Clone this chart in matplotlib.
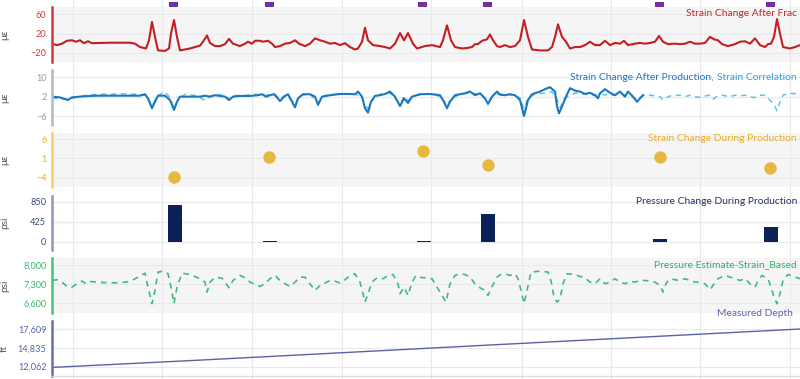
import matplotlib
matplotlib.use("Agg")
import matplotlib.pyplot as plt
from matplotlib.offsetbox import TextArea, HPacker, AnchoredOffsetbox

plt.rcParams['font.family'] = ['Lato', 'DejaVu Sans']

# ---------------- data ----------------
event_x = [174, 270, 423, 488, 660, 771]

frac_pts = [(52, -1), (57, -4), (62, -1), (67, 5), (72, 6), (76, 3), (80, 6), (84, 0), (88, 4), (92, 0),
            (100, 0.5), (110, 1), (120, 1), (130, 1), (135, -1), (140, -8), (146, -11), (149, 6), (152, 44),
            (155, 13), (158, -15), (165, -16), (169, -11), (171, 20), (174, 48), (177, 13), (180, -15),
            (185, -13), (190, -11), (195, -8), (200, -5), (203, 3), (207, 16), (210, 0.5), (215, -6),
            (220, -6), (225, -2), (229, 9), (233, -1), (240, -6), (245, -1), (248, 3), (252, -1), (255, 5),
            (260, 5), (263, 3), (268, 5), (272, -1), (275, -8), (280, -6), (285, -1), (290, 0.5), (295, 6),
            (299, -1), (305, -6), (310, -1), (315, 10), (320, 6), (325, 3), (330, -1), (335, 0.5), (340, -4),
            (345, 0), (350, -8), (355, -13), (358, -11), (362, 3), (365, 32), (368, 6), (373, -4), (380, -6),
            (385, -8), (390, -11), (395, -1), (400, 21), (404, 6), (408, 21), (413, -1), (417, -11), (425, -6),
            (432, -4), (440, -8), (443, 6), (447, 37), (451, 6), (455, -8), (462, -11), (467, -10), (472, -8),
            (475, -2), (478, -2), (482, 5), (487, 8), (490, 18), (493, 6), (497, -6), (500, -8), (505, -4),
            (510, -8), (515, -6), (520, 6), (524, 48), (528, 13), (532, -13), (540, -15), (548, -15),
            (552, -8), (555, 13), (558, 39), (562, 13), (566, 3), (570, -11), (575, -8), (580, -8), (585, -4),
            (590, 3), (595, -4), (600, -4), (605, 5), (610, -4), (615, 0.5), (620, -1), (624, 5), (628, -4),
            (635, -1), (640, 0.5), (645, -1), (650, 0.5), (655, 3), (659, 15), (663, 3), (668, -2), (675, -1),
            (680, -2), (685, -1), (690, 3), (695, -1), (700, -1), (705, 0.5), (710, 13), (714, 8), (718, 6),
            (722, -2), (728, -6), (735, -2), (740, 3), (745, 4), (750, -1), (755, 10), (760, -4), (765, -8),
            (768, -2), (771, -1), (774, 13), (777, 50), (780, 20), (783, -8), (790, -11), (795, -8), (800, -4)]

production_pts = [(52, 2), (60, 1.7), (65, 1), (68, 0.6), (72, 1.7), (80, 2), (90, 2.3), (100, 2.4), (120, 2.4),
                  (140, 2.4), (145, 3), (148, 1.3), (152, -2.8), (155, -0.1), (158, 2.4), (165, 2.4), (170, 0.6),
                  (174, -3.5), (177, -0.1), (180, 2), (190, 2), (200, 2), (205, 2.4), (210, 2), (215, 2.6),
                  (220, 2.3), (225, 2), (229, 0.6), (233, 2), (240, 2.3), (250, 2.3), (258, 2.6), (262, 3),
                  (266, 2), (270, 2.6), (274, 3), (277, 1.7), (280, 0.2), (284, 2), (288, 3), (292, -0.1),
                  (295, -2.4), (298, 1.3), (303, 3), (310, 3), (315, 2), (318, -1.4), (322, 2), (330, 2.6),
                  (340, 3.1), (348, 3.1), (355, 3), (358, 4.1), (362, 2), (365, -2.8), (368, -4.6), (371, -0.1),
                  (375, 2.3), (380, 2.6), (385, 3.1), (390, 4.1), (395, 2), (400, -1.9), (404, 1.3), (408, -0.6),
                  (412, 2), (420, 3), (430, 3.1), (440, 2.6), (443, 0.6), (447, -2.8), (450, -0.1), (455, 2.6),
                  (465, 3.4), (470, 4.1), (475, 2.6), (480, 3.4), (485, 1.3), (488, -1), (492, 2), (497, 4.1),
                  (500, 2.8), (505, 2.6), (510, 3), (515, 2.6), (520, 0.6), (524, -6), (528, 0.6), (532, 3),
                  (540, 4.1), (545, 5.1), (550, 5.9), (555, 4.1), (557, -1.9), (559, -4.9), (562, -2.1), (566, 2),
                  (570, 5.5), (575, 4.5), (580, 4.1), (585, 3.1), (590, 3.6), (595, 2.6), (598, 1.3), (600, 3.4),
                  (605, 5.1), (610, 3.6), (615, 2.6), (620, 4.1), (625, 2), (628, 4.1), (633, 2), (637, -0.1),
                  (640, 1.3), (643, 2.6)]

correlation_pts = [(52, 1.5), (60, 1.0), (70, 1.0), (80, 2.2), (90, 2.8), (100, 3.0), (110, 3.0), (120, 3.2),
                   (130, 3.0), (140, 3.0), (146, 2.5), (149, 0.5), (152, -2.0), (155, 0.5), (160, 3.0), (165, 4.0),
                   (170, 1.5), (174, -2.5), (178, 0.5), (185, 3.0), (195, 2.5), (205, 0.5), (210, 2.0), (215, 3.0),
                   (225, 2.5), (229, 1.0), (233, 2.5), (245, 2.5), (255, 3.0), (265, 2.5), (275, 3.0), (280, 1.0),
                   (285, 2.5), (292, 0.5), (295, -1.5), (300, 2.5), (310, 3.0), (318, -0.5), (325, 2.5), (335, 3.0),
                   (345, 3.0), (355, 3.0), (362, 2.0), (365, -1.5), (368, -3.0), (372, 0.5), (380, 3.0), (390, 3.5),
                   (400, -1.0), (404, 2.0), (408, 0.5), (415, 2.5), (425, 3.0), (435, 3.0), (443, 1.0), (447, -2.0),
                   (451, 1.0), (460, 3.0), (470, 3.5), (480, 3.0), (488, 0.0), (495, 3.0), (505, 3.0), (515, 2.5),
                   (520, 1.5), (524, -3.0), (528, 1.5), (535, 3.0), (545, 3.5), (552, 4.0), (557, 1.0), (560, -2.5),
                   (565, 1.5), (575, 3.5), (585, 3.0), (595, 2.5), (600, 3.0), (610, 2.5), (620, 3.0), (630, 2.5),
                   (637, 1.0), (645, 3.0), (650, 2.6), (655, 2.3), (660, 2.0), (663, 0.6), (667, 1.7), (672, 2.6),
                   (680, 2.6), (685, 2.0), (690, 2.6), (695, 2.0), (700, 1.7), (705, 2.3), (710, 2.6), (713, 1.0),
                   (717, 2.0), (722, 2.6), (730, 2.0), (735, 2.6), (740, 2.3), (745, 2.6), (750, 2.0), (755, 1.6),
                   (758, 2.6), (765, 2.6), (770, 0.6), (774, -1.4), (777, -3.8), (780, -0.1), (783, 2.6), (790, 3.4),
                   (800, 3.0)]

during_x = [174, 269, 423, 488, 660, 770]
during_y = [-3.9, 1.3, 2.9, -0.7, 1.4, -1.4]

pressure_x = [175, 270, 424, 488, 660, 771]
pressure_y = [785, 12, 10, 582, 45, 314]

estimate_pts = [(52, 7435), (57, 7460), (62, 7373), (67, 7216), (72, 7190), (77, 7315), (82, 7410), (86, 7315),
                (90, 7398), (100, 7362), (110, 7350), (120, 7350), (130, 7398), (138, 7555), (145, 7700),
                (148, 7190), (152, 6585), (155, 7070), (158, 7740), (163, 7775), (168, 7680), (171, 7190),
                (174, 6585), (177, 7190), (182, 7700), (190, 7653), (200, 7497), (205, 7373), (207, 7010),
                (210, 7373), (215, 7555), (222, 7520), (229, 7168), (233, 7435), (240, 7617), (245, 7535),
                (250, 7373), (255, 7290), (260, 7216), (265, 7315), (270, 7497), (275, 7617), (280, 7435),
                (285, 7315), (290, 7216), (295, 7373), (300, 7555), (305, 7555), (310, 7315), (315, 7070),
                (320, 7253), (325, 7340), (330, 7435), (335, 7410), (340, 7340), (345, 7460), (350, 7617),
                (355, 7680), (360, 7373), (363, 6950), (365, 6644), (368, 6950), (372, 7373), (377, 7535),
                (383, 7497), (388, 7617), (393, 7653), (398, 7315), (400, 6950), (404, 7190), (408, 6888),
                (412, 7373), (416, 7617), (422, 7535), (428, 7535), (432, 7497), (436, 7253), (440, 7010),
                (443, 6826), (446, 6644), (450, 7315), (455, 7617), (460, 7680), (465, 7653), (470, 7555),
                (475, 7315), (480, 7168), (485, 7070), (488, 6888), (492, 7216), (497, 7555), (500, 7640),
                (505, 7680), (510, 7617), (515, 7680), (518, 7497), (521, 7070), (524, 6585), (527, 7070),
                (531, 7740), (540, 7775), (548, 7740), (551, 7435), (554, 6826), (557, 6644), (560, 6764),
                (563, 7315), (567, 7680), (575, 7653), (580, 7580), (585, 7535), (590, 7373), (595, 7315),
                (600, 7497), (605, 7315), (610, 7373), (615, 7497), (620, 7373), (625, 7315), (630, 7410),
                (635, 7373), (640, 7435), (645, 7435), (650, 7410), (655, 7373), (660, 7253), (663, 7010),
                (666, 7315), (670, 7497), (675, 7460), (680, 7435), (685, 7497), (690, 7435), (695, 7373),
                (700, 7373), (705, 7315), (710, 7096), (713, 7253), (718, 7497), (725, 7617), (730, 7555),
                (735, 7497), (740, 7435), (745, 7497), (750, 7315), (755, 7190), (758, 7435), (762, 7617),
                (768, 7497), (771, 7190), (774, 6826), (777, 6585), (780, 6950), (783, 7435), (788, 7653),
                (793, 7580), (800, 7497)]

depth_x = [52, 200, 500, 800]
depth_y = [11950, 13030, 15330, 17609]

grid_x = [72.7, 161.7, 251.7, 341.7, 430.7, 521.7, 610.7, 700, 790]

# ---------------- layout ----------------
W, H = 800, 379
X0, X1 = 52, 800
fig = plt.figure(figsize=(W / 100, H / 100), dpi=100)


def ax_at(top, bottom):
    return fig.add_axes([X0 / W, 1 - bottom / H, (X1 - X0) / W, (bottom - top) / H])


GRID = '#e9e9ec'
BAND = '#f5f5f5'

# background vertical grid across the gaps
bg = fig.add_axes([X0 / W, 0, (X1 - X0) / W, 1], zorder=-5)
bg.set_xlim(X0, X1)
bg.axis('off')
for gx in grid_x:
    bg.axvline(gx, color=GRID, lw=0.8)


def style(ax, ylim, ticks, labels, tcolor, scolor, face, ylabel):
    ax.set_xlim(X0, X1)
    ax.set_ylim(*ylim)
    ax.set_facecolor(face)
    for s in ['top', 'right', 'bottom']:
        ax.spines[s].set_visible(False)
    ax.spines['left'].set_color(scolor)
    ax.spines['left'].set_linewidth(1.8)
    ax.set_yticks(ticks)
    ax.set_yticklabels(labels, color=tcolor, fontsize=6.6)
    ax.tick_params(axis='y', length=0, pad=4)
    ax.set_xticks(grid_x)
    ax.tick_params(axis='x', length=0, labelbottom=False)
    ax.grid(True, color=GRID, lw=0.8)
    ax.set_axisbelow(True)
    ax.set_ylabel(ylabel, color='#555555', fontsize=7.2)
    ax.yaxis.set_label_coords(-(52 - 9) / 748, 0.5)


def title(ax, text, color, y_px_from_top, x=0.996, h=55):
    ax.text(x, 1 - y_px_from_top / h, text, transform=ax.transAxes, ha='right', va='center',
            color=color, fontsize=7.4, clip_on=False, zorder=10)


# events strip
ev = ax_at(2.3, 6.7)
ev.set_xlim(X0, X1)
ev.set_ylim(0, 1)
ev.axis('off')
ev.bar(event_x, [1] * len(event_x), width=9, bottom=0, color='#7030a0', align='center')

# panel 1
a1 = ax_at(7, 62)
style(a1, (-39, 75), [-20, 20, 60], ['\u221220', '20', '60'], '#d0393e', '#d0393e', BAND, '\u03bc\u03b5')
fx, fy = zip(*frac_pts)
a1.plot(fx, fy, color='#c41e24', lw=1.5, solid_joinstyle='round')
title(a1, 'Strain Change After Frac', '#c0282d', 7)

# panel 2
a2 = ax_at(70, 125)
style(a2, (-9.7, 13), [-6, 2, 10], ['\u22126', '2', '10'], '#9a9aa2', '#b8b8bc', 'white', '\u03bc\u03b5')
cx, cy = zip(*correlation_pts)
a2.plot(cx, cy, color='#5cc3ea', lw=1.1, dashes=(3.5, 3))
px, py = zip(*production_pts)
a2.plot(px, py, color='#1b78be', lw=1.5, solid_joinstyle='round')
t1 = TextArea('Strain Change After Production,', textprops=dict(color='#2a72b3', fontsize=7.4))
t2 = TextArea('Strain Correlation', textprops=dict(color='#2aa3dc', fontsize=7.4))
box = HPacker(children=[t1, t2], sep=3, pad=0, align='center')
anch = AnchoredOffsetbox(loc='center right', child=box, pad=0, borderpad=0, frameon=False,
                         bbox_to_anchor=(0.996, 1 - 7 / 55), bbox_transform=a2.transAxes)
a2.add_artist(anch)

# panel 3
a3 = ax_at(133, 187)
style(a3, (-6.4, 7.6), [-4, 1, 6], ['\u22124', '1', '6'], '#e3ae2c', '#f2cf6a', BAND, '\u03bc\u03b5')
a3.scatter(during_x, during_y, s=80, color='#e7b83e', zorder=3, linewidths=0)
title(a3, 'Strain Change During Production', '#e3ae2c', 6, h=54)

# panel 4
a4 = ax_at(196, 250)
style(a4, (-181, 974), [0, 425, 850], ['0', '425', '850'], '#3d4a78', '#8e97bb', 'white', 'psi')
a4.bar(pressure_x, pressure_y, width=14.6, color='#0b2158', zorder=3)
title(a4, 'Pressure Change During Production', '#243363', 6, h=54)

# panel 5
a5 = ax_at(258, 313)
style(a5, (6246, 8255), [6600, 7300, 8000], ['6,600', '7,300', '8,000'], '#35b86a', '#45c27a', BAND, 'psi')
ex, ey = zip(*estimate_pts)
a5.plot(ex, ey, color='#40bb80', lw=1.2, dashes=(3.5, 3))
title(a5, 'Pressure Estimate-Strain_Based', '#2bb36a', 7)

# panel 6
a6 = ax_at(321, 376)
style(a6, (10690, 18790), [12062, 14835, 17609], ['12,062', '14,835', '17,609'], '#5866a8', '#6470b0',
      'white', 'ft')
a6.spines['bottom'].set_visible(True)
a6.spines['bottom'].set_color('#dcdcdc')
a6.spines['bottom'].set_linewidth(1.0)
a6.plot(depth_x, depth_y, color='#5a62a6', lw=1.0)
title(a6, 'Measured Depth', '#5b68ae', -7, x=(793 - 52) / 748)

fig.savefig('out.png', dpi=100)
